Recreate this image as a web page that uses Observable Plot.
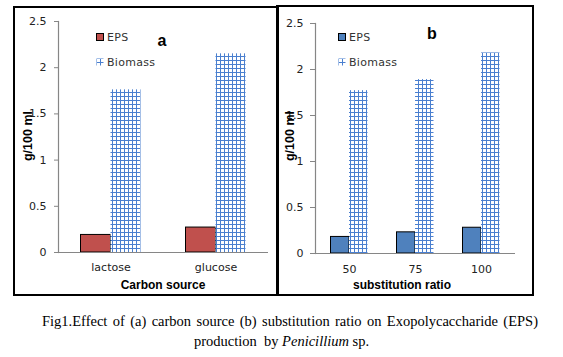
<!DOCTYPE html>
<html>
<head>
<meta charset="utf-8">
<script src="https://cdn.jsdelivr.net/npm/d3@7"></script>
<script src="https://cdn.jsdelivr.net/npm/@observablehq/plot@0.6"></script>
<style>
  body { margin: 0; background: #fff; }
  #root { position: relative; width: 563px; height: 357px; background: #fff; overflow: hidden; font-family: "DejaVu Sans", sans-serif; }
  .abs { position: absolute; }
  .box { position: absolute; border: 2px solid #000; box-sizing: border-box; }
  .ylab { position: absolute; font: bold 12.5px "Liberation Sans", Arial, sans-serif; color: #000; transform: translate(-50%, -50%) rotate(-90deg); white-space: nowrap; }
  .xlab { position: absolute; font: bold 12px "Liberation Sans", Arial, sans-serif; color: #000; transform: translate(-50%, -50%); white-space: nowrap; }
  .plab { position: absolute; font: bold 16px "Liberation Sans", Arial, sans-serif; color: #000; transform: translate(-50%, -50%); }
  .leg { position: absolute; font-size: 11px; color: #333; display: flex; align-items: center; white-space: nowrap; letter-spacing: 0.3px; }
  .leg svg { margin-right: 3px; }
  .cap { position: absolute; font: 14.5px "Liberation Serif", "Times New Roman", serif; color: #000; }
</style>
</head>
<body>
<div id="root">
  <svg width="0" height="0" style="position:absolute">
    <defs>
      <pattern id="grid" width="4" height="4" patternUnits="userSpaceOnUse">
        <rect width="4" height="4" fill="#fff"></rect>
        <path d="M0.5 0 V4 M0 0.5 H4" stroke="#4a7fcf" stroke-width="1" fill="none"></path>
      </pattern>
    </defs>
  </svg>
  <div class="box" style="left:13px; top:6px; width:266px; height:290px;"></div>
  <div class="box" style="left:276px; top:5px; width:258px; height:291px; border-left-width:3px;"></div>
  <div id="pa" class="abs" style="left:0; top:0;"></div>
  <div id="pb" class="abs" style="left:278px; top:0;"></div>
</div>
<script>
const carbonSources = ["lactose", "glucose"];
const epsA = [0.19, 0.27];
const biomassA = [1.76, 2.15];

const ratios = ["50", "75", "100"];
const epsB = [0.18, 0.23, 0.28];
const biomassB = [1.77, 1.89, 2.18];

const yTicks = [0, 0.5, 1, 1.5, 2, 2.5];
const seriesNames = ["EPS", "Biomass"];
const yLabel = "g/100 ml";
const xLabelA = "Carbon source";
const xLabelB = "substitution ratio";

const tableA = carbonSources.map((c, i) => ({cat: c, eps: epsA[i], biomass: biomassA[i]}));
const tableB = ratios.map((c, i) => ({cat: c, eps: epsB[i], biomass: biomassB[i]}));

function panel(table, domain, opts) {
  return Plot.plot({
    width: opts.width, height: 300,
    marginLeft: opts.ml, marginRight: opts.mr, marginTop: opts.mt, marginBottom: 300 - opts.y0,
    x: {domain, padding: 0, axis: null},
    y: {domain: [0, 2.5], axis: null},
    style: {fontFamily: "DejaVu Sans, sans-serif", fontSize: "11px", background: "transparent", color: "#222"},
    marks: [
      Plot.axisY({ticks: yTicks, tickFormat: d => String(d), tickSize: opts.ts, tickPadding: opts.tp, stroke: "#868686", fill: "#222", label: null}),
      Plot.axisX({tickSize: 0, tickPadding: opts.xp, fill: "#222", label: null}),
      Plot.barY(table, {x: "cat", y: "eps", fill: opts.color, stroke: "#000", strokeWidth: 1, insetLeft: opts.i1, insetRight: opts.i2}),
      Plot.barY(table, {x: "cat", y: "biomass", fill: "url(#grid)", insetLeft: opts.i2, insetRight: opts.i1}),
      Plot.ruleY([0], {stroke: "#868686", strokeWidth: 1.2}),
      Plot.frame({anchor: "left", stroke: "#868686", strokeWidth: 1.2})
    ]
  });
}

document.getElementById("pa").append(panel(tableA, carbonSources,
  {width: 278, ml: 58, mr: 10, mt: 21, y0: 252, ts: 4, tp: 8, xp: 11, color: "#c0504d", i1: 22.5, i2: 52.5}));
document.getElementById("pb").append(panel(tableB, ratios,
  {width: 255, ml: 37, mr: 18, mt: 23, y0: 253, ts: 5, tp: 7, xp: 12, color: "#4f81bd", i1: 14.5, i2: 33}));

const root = document.getElementById("root");
function add(cls, text, x, y, extra) {
  const d = document.createElement("div");
  d.className = cls;
  d.textContent = text;
  d.style.left = x + "px";
  d.style.top = y + "px";
  if (extra) Object.assign(d.style, extra);
  root.append(d);
  return d;
}
add("ylab", yLabel, 28, 136);
add("ylab", yLabel, 290, 136);
add("xlab", xLabelA, 163, 285);
add("xlab", xLabelB, 402, 285);
add("plab", "a", 162, 41);
add("plab", "b", 432, 34);

function legend(x, y, name, fill, stroke) {
  const d = document.createElement("div");
  d.className = "leg";
  d.style.left = x + "px";
  d.style.top = (y - 8) + "px";
  d.style.height = "16px";
  d.innerHTML = `<svg width="8" height="8"><rect x="0.5" y="0.5" width="7" height="7" fill="${fill}" stroke="${stroke}"></rect></svg>`;
  d.append(document.createTextNode(name));
  root.append(d);
}
legend(96, 37, seriesNames[0], "#c0504d", "#000");
legend(96, 62, seriesNames[1], "url(#grid)", "none");
legend(338, 37, seriesNames[0], "#4f81bd", "#000");
legend(338, 62, seriesNames[1], "url(#grid)", "none");

add("cap", "Fig1.Effect  of (a) carbon source (b) substitution  ratio  on Exopolycaccharide  (EPS)", 42, 313,
  {width: "496px", textAlign: "justify", textAlignLast: "justify", whiteSpace: "normal"});
const c2 = document.createElement("div");
c2.className = "cap";
c2.style.left = "0px"; c2.style.top = "333px"; c2.style.width = "563px"; c2.style.textAlign = "center";
c2.innerHTML = "production&nbsp; by <i>Penicillium</i> sp.";
root.append(c2);
</script>
</body>
</html>
